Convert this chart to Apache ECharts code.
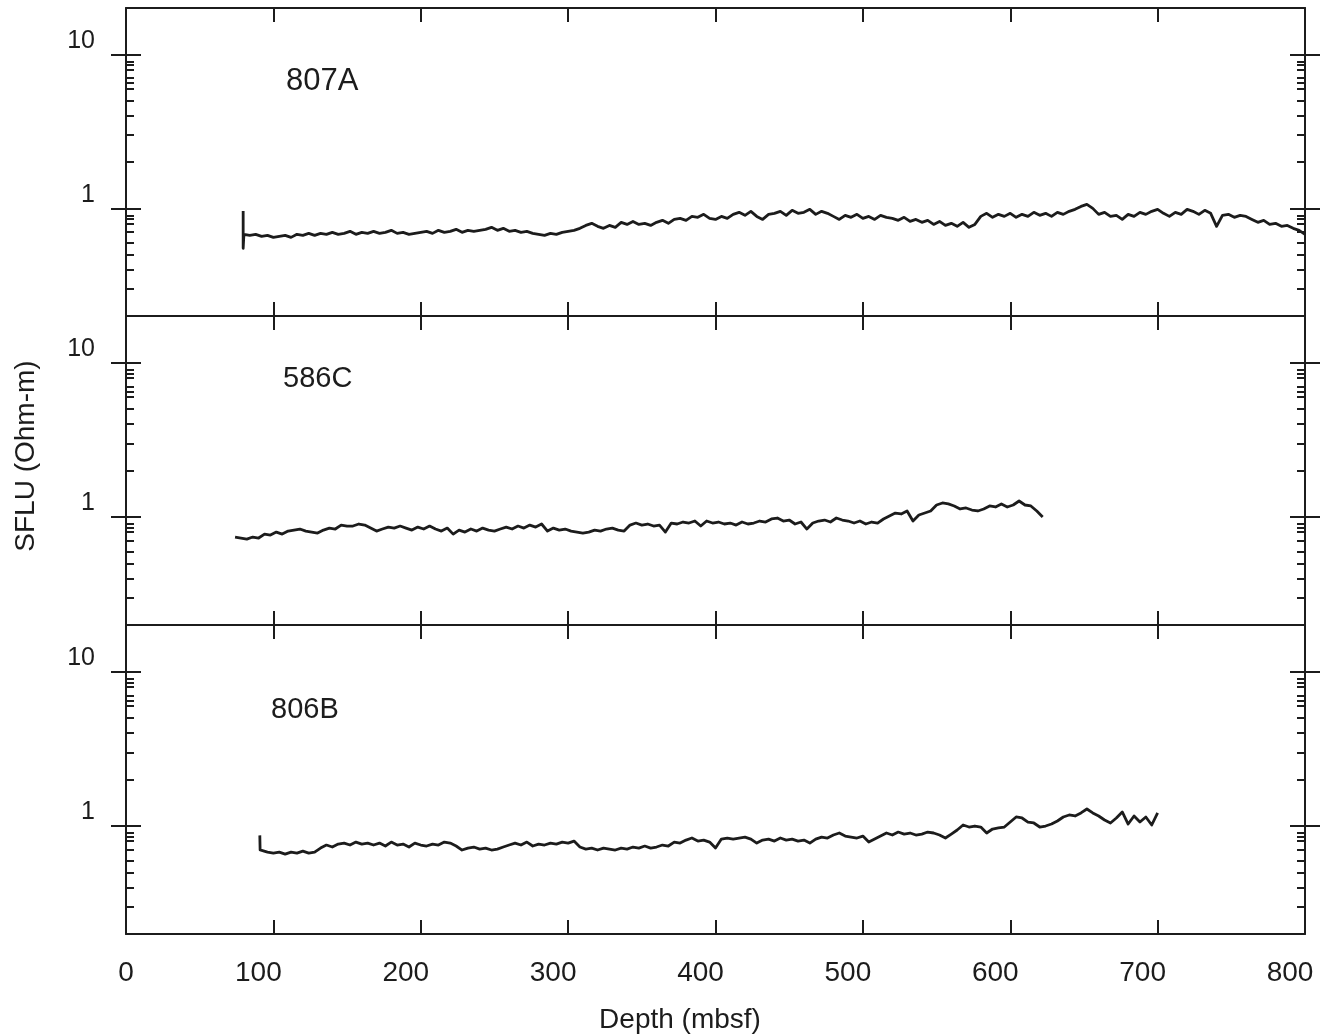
<!DOCTYPE html>
<html><head><meta charset="utf-8">
<script src="https://cdn.jsdelivr.net/npm/echarts@6/dist/echarts.min.js"></script>
<style>html,body{margin:0;padding:0;background:#fff}#c{width:1326px;height:1036px}</style>
</head><body><div id="c"></div>
<script>
// ---------- data ----------
const siteNames = ['807A', '586C', '806B'];
const DEPTH_STEP = 4;            // sampling interval of the readings (m)
const depthStart807A = 80;
const depthStart586C = 74;
const depthStart806B = 92;

// start-of-log spikes [depth, SFLU]
const spike807A = [[79.5, 0.96], [79.5, 0.55]];
const spike806B = [[90.8, 0.87], [91.0, 0.70]];

const sflu807A = [
.678,.668,.678,.658,.668,.648,.658,.668,.648,.678,
.668,.688,.668,.688,.678,.699,.678,.688,.709,.678,
.699,.688,.709,.688,.699,.720,.688,.699,.678,.688,
.699,.709,.688,.720,.699,.709,.731,.699,.720,.709,
.720,.731,.753,.720,.742,.709,.720,.699,.709,.688,
.678,.668,.688,.678,.699,.709,.720,.742,.775,.799,
.764,.742,.775,.753,.811,.787,.823,.787,.799,.775,
.811,.836,.799,.848,.861,.836,.887,.874,.914,.861,
.848,.887,.861,.914,.942,.901,.956,.887,.848,.914,
.928,.956,.901,.971,.928,.942,.985,.914,.956,.928,
.887,.848,.901,.874,.914,.861,.887,.848,.901,.874,
.861,.836,.874,.823,.848,.811,.836,.787,.823,.775,
.799,.764,.811,.753,.787,.887,.928,.874,.914,.887,
.928,.874,.914,.887,.942,.901,.928,.887,.942,.914,
.956,.985,1.03,1.061,1.0,.914,.942,.887,.901,.848,
.914,.887,.942,.914,.956,.985,.928,.887,.942,.914,
.985,.956,.914,.971,.928,.764,.901,.914,.874,.901,
.887,.848,.811,.836,.787,.799,.764,.775,.742,.720,
.678];

const sflu586C = [
.742,.731,.720,.742,.731,.775,.764,.799,.775,.811,
.823,.836,.811,.799,.787,.823,.848,.836,.887,.874,
.874,.901,.887,.848,.811,.836,.861,.848,.874,.848,
.823,.861,.836,.874,.836,.811,.848,.775,.823,.799,
.836,.811,.848,.823,.811,.836,.861,.836,.874,.848,
.887,.861,.901,.811,.848,.823,.836,.811,.799,.787,
.799,.823,.811,.836,.848,.823,.811,.887,.914,.887,
.901,.874,.887,.799,.914,.901,.928,.914,.942,.874,
.942,.914,.928,.901,.914,.887,.928,.901,.914,.942,
.928,.971,.985,.942,.956,.901,.928,.836,.914,.942,
.956,.928,.985,.956,.942,.914,.942,.901,.928,.914,
.971,1.015,1.061,1.046,1.094,.942,1.03,1.061,1.094,1.196,
1.233,1.215,1.179,1.127,1.144,1.110,1.094,1.127,1.179,1.161,
1.215,1.161,1.196,1.270,1.196,1.179,1.094,1.0];

const sflu806B = [
.699,.678,.668,.678,.658,.678,.668,.688,.668,.678,
.720,.753,.731,.764,.775,.753,.787,.764,.775,.753,
.775,.742,.787,.753,.764,.731,.775,.753,.742,.764,
.753,.787,.775,.742,.699,.720,.731,.709,.720,.699,
.709,.731,.753,.775,.753,.787,.742,.764,.753,.775,
.764,.787,.775,.799,.731,.709,.720,.699,.720,.709,
.699,.720,.709,.731,.720,.742,.720,.731,.753,.742,
.787,.775,.811,.836,.799,.811,.787,.720,.823,.836,
.823,.836,.848,.823,.775,.811,.823,.799,.836,.811,
.823,.799,.811,.775,.823,.848,.836,.874,.901,.861,
.848,.836,.861,.787,.823,.861,.901,.874,.914,.887,
.901,.874,.887,.914,.901,.874,.836,.887,.942,1.015,
.985,1.0,.985,.901,.956,.971,.985,1.061,1.144,1.127,
1.061,1.046,.985,1.0,1.03,1.078,1.144,1.179,1.161,1.215,
1.289,1.215,1.161,1.094,1.046,1.127,1.233,1.03,1.161,1.061,
1.144,1.015,1.215];

const xTickValues = [0, 100, 200, 300, 400, 500, 600, 700, 800];
const yMajorTicks = [1, 10];
const yMinorTicks = [0.3, 0.4, 0.5, 0.6, 0.7, 0.8, 0.85, 0.9, 2, 3, 4, 5, 6, 6.5, 7, 8, 8.5, 9];
const Y_MIN = 0.2, Y_MAX = 20, X_MIN = 0, X_MAX = 800;

// ---------- build ----------
const INK = '#1c1c1c';
const FONT = '"Liberation Sans", Arial, Helvetica, sans-serif';
const gridTops = [8, 316, 625];
const gridHeights = [308, 309, 309];

function series(start, vals, spike) {
  const pts = spike ? spike.slice() : [];
  vals.forEach((v, i) => pts.push([start + i * DEPTH_STEP, v]));
  return pts;
}
const seriesData = [
  series(depthStart807A, sflu807A, spike807A),
  series(depthStart586C, sflu586C, null),
  series(depthStart806B, sflu806B, spike806B)
];

const lmin = Math.log10(Y_MIN), lmax = Math.log10(Y_MAX);
const majorL = yMajorTicks.map(Math.log10);
const minorL = yMinorTicks.map(Math.log10);
const lineSt = { color: INK, width: 2 };

const grid = [], xAxis = [], yAxis = [], seriesArr = [];
for (let g = 0; g < 3; g++) {
  grid.push({ left: 126, top: gridTops[g], width: 1179, height: gridHeights[g] });
  const xb = { type: 'value', gridIndex: g, min: X_MIN, max: X_MAX, interval: 100,
    axisLine: { show: true, onZero: false, lineStyle: lineSt },
    axisTick: { show: true, inside: true, length: 14, customValues: xTickValues, lineStyle: lineSt },
    splitLine: { show: false } };
  xAxis.push(Object.assign({}, xb, { position: 'bottom',
    axisLabel: { show: g === 2, margin: 25, customValues: xTickValues,
      formatter: v => (v === 0 ? '{z|0}' : '{a|' + v + '}'),
      rich: { z: { fontSize: 28, fontFamily: FONT, color: INK },
              a: { fontSize: 28, fontFamily: FONT, color: INK, padding: [0, 30, 0, 0] } } } }));
  xAxis.push(Object.assign({}, xb, { position: 'top', axisLabel: { show: false } }));

  const base = { gridIndex: g, splitLine: { show: false } };
  const yb = Object.assign({}, base, { type: 'value', min: lmin, max: lmax });
  // data axis (log)
  yAxis.push(Object.assign({}, base, { type: 'log', logBase: 10, min: Y_MIN, max: Y_MAX, position: 'left',
    axisLine: { show: true, onZero: false, lineStyle: lineSt }, axisTick: { show: false }, axisLabel: { show: false } }));
  // left major ticks + labels
  yAxis.push(Object.assign({}, yb, { position: 'left', offset: 15,
    axisLine: { show: false, onZero: false },
    axisTick: { show: true, inside: true, length: 30, customValues: majorL, lineStyle: lineSt },
    axisLabel: { show: true, customValues: majorL, margin: 16, verticalAlign: 'bottom',
      formatter: v => String(Math.round(Math.pow(10, v))),
      fontSize: 25, fontFamily: FONT, color: INK, padding: [0, 0, 1, 0] } }));
  // left minor ticks
  yAxis.push(Object.assign({}, yb, { position: 'left', offset: 0,
    axisLine: { show: false, onZero: false },
    axisTick: { show: true, inside: true, length: 8, customValues: minorL, lineStyle: lineSt },
    axisLabel: { show: false } }));
  // right line + minor ticks
  yAxis.push(Object.assign({}, yb, { position: 'right', offset: 0,
    axisLine: { show: true, onZero: false, lineStyle: lineSt },
    axisTick: { show: true, inside: true, length: 8, customValues: minorL, lineStyle: lineSt },
    axisLabel: { show: false } }));
  // right major ticks
  yAxis.push(Object.assign({}, yb, { position: 'right', offset: 15,
    axisLine: { show: false, onZero: false },
    axisTick: { show: true, inside: true, length: 30, customValues: majorL, lineStyle: lineSt },
    axisLabel: { show: false } }));

  seriesArr.push({ type: 'line', xAxisIndex: g * 2, yAxisIndex: g * 5, data: seriesData[g],
    showSymbol: false, symbol: 'none', silent: true, animation: false,
    lineStyle: { color: INK, width: 2.8, join: 'round' } });
}

const chart = echarts.init(document.getElementById('c'), null, { renderer: 'canvas' });
chart.setOption({
  animation: false,
  backgroundColor: '#fff',
  grid, xAxis, yAxis, series: seriesArr,
  graphic: [
    { type: 'text', left: 286, top: 66, style: { text: siteNames[0], fontSize: 31, fontFamily: FONT, fill: INK } },
    { type: 'text', left: 283, top: 364, style: { text: siteNames[1], fontSize: 29, fontFamily: FONT, fill: INK } },
    { type: 'text', left: 271, top: 695, style: { text: siteNames[2], fontSize: 29, fontFamily: FONT, fill: INK } },
    { type: 'text', x: 680, y: 1020, style: { text: 'Depth (mbsf)', fontSize: 28, fontFamily: FONT, fill: INK, align: 'center', verticalAlign: 'middle' } },
    { type: 'text', x: 26, y: 456, rotation: Math.PI / 2, style: { text: 'SFLU (Ohm-m)', fontSize: 28, fontFamily: FONT, fill: INK, align: 'center', verticalAlign: 'middle' } }
  ]
});
</script></body></html>
